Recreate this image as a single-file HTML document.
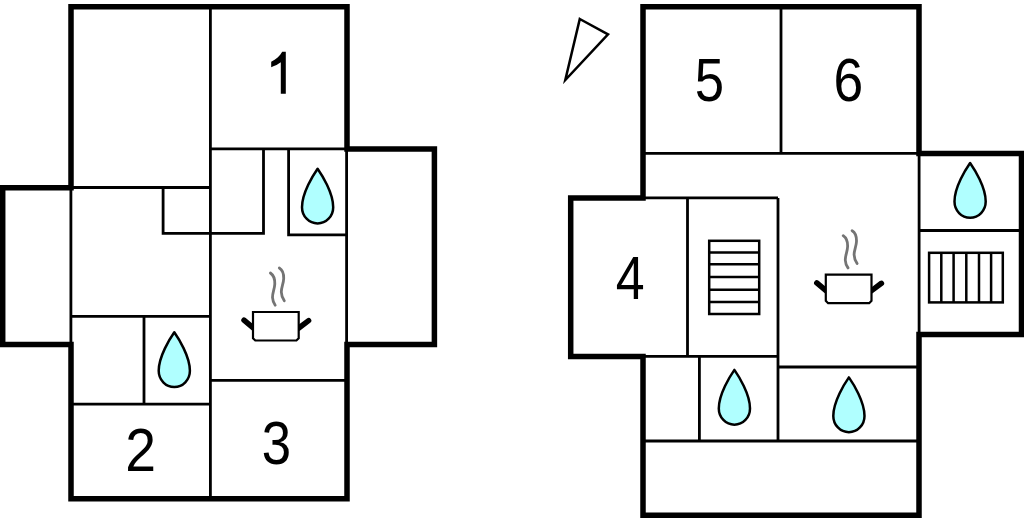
<!DOCTYPE html>
<html><head><meta charset="utf-8">
<style>
html,body{margin:0;padding:0;background:#fff;width:1024px;height:518px;overflow:hidden}
svg{display:block}
text{font-family:"Liberation Sans",sans-serif;font-size:61px;fill:#000}
</style></head><body>
<svg width="1024" height="518" viewBox="0 0 1024 518">
<defs>
<path id="drop" d="M0,0 C4.2,6 15.6,24 15.6,38.5 C15.6,47.5 8.6,54.8 0,54.8 C-8.6,54.8 -15.6,47.5 -15.6,38.5 C-15.6,24 -4.2,6 0,0 Z" fill="#b0ffff" stroke="#000" stroke-width="2.5" stroke-linejoin="round"/>
<g id="pot">
<path d="M244,320.2 L253.5,328.2 M298.5,328.2 L308.6,320.6" stroke="#000" stroke-width="5.5" stroke-linecap="round" fill="none"/>
<path d="M253,312 H298.7 V338.2 L296.4,340.5 H255.3 L253,338.2 Z" fill="#fff" stroke="#000" stroke-width="2.2"/>
<path d="M270.4,273 C274,275.5 275,279 274.8,284 C274.6,289 272.3,293 272.5,297.5 C272.7,301 274,303.5 275.2,305.2 M279.3,268 C282.7,270 283.8,273.5 283.7,278.5 C283.6,283.5 281.2,287.5 281.3,292 C281.4,296 283,298.8 284.3,300.8" stroke="#747474" stroke-width="2.8" stroke-linecap="round" fill="none"/>
</g>
</defs>
<rect width="1024" height="518" fill="#fff"/>
<g fill="none" stroke="#000" stroke-linecap="butt">
<!-- LEFT PLAN thin -->
<g stroke-width="2.8">
<path d="M210.4,6.7 V498.7 M210.4,148.8 H347 M263.5,148.8 V233.4 H163.1 V187.5 M71,187.5 H210.4 M288.6,148.8 V234.9 H347 M70.9,187.5 V344.5 M346.6,149 V344.5 M71,316.35 H210.4 M144,316.35 V404.1 M71,404.1 H210.4 M210.4,380.4 H347"/>
</g>
<path stroke-width="5.5" stroke-linejoin="miter" d="M71,6.7 H347 V149 H434.4 V344.5 H347 V498.7 H71 V344.5 H2.7 V187.7 H71 Z"/>
<!-- RIGHT PLAN thin -->
<g stroke-width="2.8">
<path d="M781,6.7 V153.2 M643,153.3 H919 M643,197.9 H778 M687.5,197.9 V356.45 M778,197.9 V441 M643,356.45 H778 M699.4,356.45 V441 M778,367 H919 M643,441 H919 M919.1,153.4 V334.4 M919,230.5 H1021.5"/>
</g>
<path stroke-width="5.5" stroke-linejoin="miter" d="M643,6.7 H919 V153.4 H1021.5 V334.4 H919 V515.2 H643 V356.5 H570.7 V198 H643 Z"/>
<!-- north arrow -->
<path stroke-width="2.5" stroke-linejoin="miter" d="M579.8,19 L608,34.3 L565.3,80 Z"/>
<!-- stairs -->
<g stroke-width="2.5">
<rect x="709.2" y="240.8" width="50" height="73.2"/>
<path d="M709.2,252.5 H759.2 M709.2,264.2 H759.2 M709.2,276.9 H759.2 M709.2,289.8 H759.2 M709.2,302 H759.2"/>
<rect x="929.1" y="252.8" width="73.7" height="49.6"/>
<path d="M941.3,252.8 V302.4 M953.6,252.8 V302.4 M966.3,252.8 V302.4 M979,252.8 V302.4 M991.1,252.8 V302.4"/>
</g>
</g>
<!-- drops -->
<use href="#drop" transform="translate(317.6,168.7)"/>
<use href="#drop" transform="translate(174.3,332.3)"/>
<use href="#drop" transform="translate(734.4,369.9)"/>
<use href="#drop" transform="translate(848.9,377.4)"/>
<use href="#drop" transform="translate(970.1,163)"/>
<!-- pots -->
<use href="#pot"/>
<use href="#pot" transform="translate(572.8,-37.3)"/>
<!-- digits -->
<path d="M285.8,51.8 L285.8,93.8 L280.8,93.8 L280.8,62.3 C278.5,64 275,66 271.2,67.2 L271.2,61.8 C276,59.5 280,56 282.2,51.8 Z" fill="#000"/>
<text transform="translate(125.2,470.9) scale(0.908,1)">2</text>
<text transform="translate(261.7,463.85) scale(0.865,1)">3</text>
<text transform="translate(615.8,298.8) scale(0.85,1)">4</text>
<text transform="translate(694.7,101) scale(0.865,1)">5</text>
<text transform="translate(833.4,101.1) scale(0.876,1)">6</text>
</svg>
</body></html>
